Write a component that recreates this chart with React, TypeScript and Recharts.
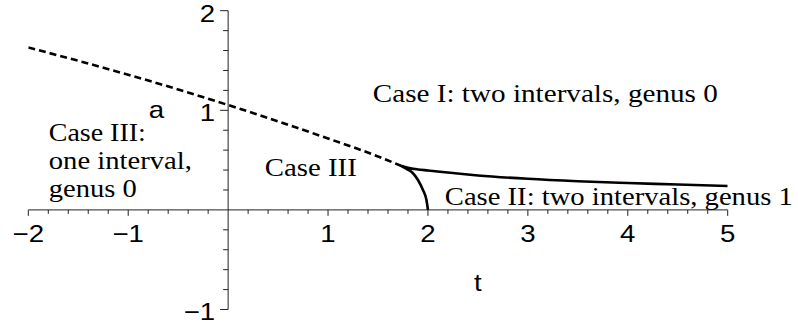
import { LineChart, Line, XAxis, YAxis, ReferenceLine, ReferenceDot } from 'recharts'

// phase boundaries in the (t, a) plane
const caseIIIBoundary = [
  { x: -2, y: 1.63 },
  { x: -1.5, y: 1.497 },
  { x: -1, y: 1.357 },
  { x: -0.5, y: 1.209 },
  { x: 0, y: 1.053 },
  { x: 0.5, y: 0.889 },
  { x: 1, y: 0.717 },
  { x: 1.5, y: 0.537 },
  { x: 1.736, y: 0.44 },
]

const genusOneUpper = [
  { x: 1.736, y: 0.44 },
  { x: 1.8, y: 0.422 },
  { x: 1.9, y: 0.406 },
  { x: 2, y: 0.396 },
  { x: 2.25, y: 0.37 },
  { x: 2.5, y: 0.346 },
  { x: 3, y: 0.312 },
  { x: 3.5, y: 0.288 },
  { x: 4, y: 0.27 },
  { x: 4.5, y: 0.255 },
  { x: 5, y: 0.24 },
]

const genusOneLower = [
  { x: 1.736, y: 0.44 },
  { x: 1.79, y: 0.41 },
  { x: 1.85, y: 0.368 },
  { x: 1.9, y: 0.3 },
  { x: 1.95, y: 0.2 },
  { x: 1.985, y: 0.1 },
  { x: 2, y: 0 },
]

const xTickLabels = [-2, -1, 1, 2, 3, 4, 5]
const yTickLabels = [-1, 1, 2]
const xTitle = 't'
const yTitle = 'a'

const regionNames = [
  'Case I: two intervals, genus 0',
  'Case III:',
  'one interval,',
  'genus 0',
  'Case III',
  'Case II: two intervals, genus 1',
]

// where each region name sits (data coords of the baseline start) and how wide it runs
const regionLayout = [
  { x: 1.448, y: 1.083, w: 345 },
  { x: -1.795, y: 0.695, w: 97 },
  { x: -1.795, y: 0.408, w: 143 },
  { x: -1.795, y: 0.127, w: 88 },
  { x: 0.367, y: 0.344, w: 92 },
  { x: 2.169, y: 0.05, w: 348 },
]

const minorX = Array.from({ length: 36 }, (_, i) => Math.round((-2 + i * 0.2) * 10) / 10).filter(v => v !== 0)
const minorY = Array.from({ length: 16 }, (_, i) => Math.round((-1 + i * 0.2) * 10) / 10).filter(v => v !== 0)

const AXIS = '#222'
const SANS = '"Liberation Sans", Arial, Helvetica, sans-serif'
const SERIF = '"Liberation Serif", "Times New Roman", serif'

const sansText = (value: string, anchor: 'start' | 'middle' | 'end') => (p: any) => {
  const vb = p.viewBox ?? {}
  const x = (vb.x ?? 0) + (vb.width ?? 0) / 2
  const y = (vb.y ?? 0) + (vb.height ?? 0) / 2
  return (
    <text
      transform={`translate(${x},${y}) scale(1.15,1)`}
      textAnchor={anchor}
      fontFamily={SANS}
      fontSize={24}
      fill="#000"
    >
      {value}
    </text>
  )
}

const serifText = (value: string, width: number) => (p: any) => {
  const vb = p.viewBox ?? {}
  const x = (vb.x ?? 0) + (vb.width ?? 0) / 2
  const y = (vb.y ?? 0) + (vb.height ?? 0) / 2
  return (
    <text
      x={x}
      y={y}
      textLength={width}
      lengthAdjust="spacingAndGlyphs"
      fontFamily={SERIF}
      fontSize={25}
      fill="#000"
    >
      {value}
    </text>
  )
}

const fmt = (v: number) => (v < 0 ? `\u2212${-v}` : `${v}`)

export default function App() {
  return (
    <div style={{ position: 'absolute', left: 0, top: 0, background: '#fff' }}>
      <LineChart
        width={798}
        height={329}
        margin={{ top: 10.7, right: 70.3, bottom: 19.5, left: 28.3 }}
      >
        <XAxis type="number" dataKey="x" domain={[-2, 5]} hide allowDataOverflow />
        <YAxis type="number" dataKey="y" domain={[-1, 2]} hide allowDataOverflow />

        {/* axes through the origin */}
        <ReferenceLine segment={[{ x: -2, y: 0 }, { x: 5, y: 0 }]} stroke={AXIS} strokeWidth={1} ifOverflow="visible" />
        <ReferenceLine segment={[{ x: 0, y: -1 }, { x: 0, y: 2 }]} stroke={AXIS} strokeWidth={1} ifOverflow="visible" />

        {minorX.map(v => (
          <ReferenceLine
            key={`xt${v}`}
            segment={[{ x: v, y: 0 }, { x: v, y: Number.isInteger(v) ? -0.06 : -0.04 }]}
            stroke={AXIS}
            strokeWidth={1}
            ifOverflow="visible"
          />
        ))}
        {minorY.map(v => (
          <ReferenceLine
            key={`yt${v}`}
            segment={[{ x: 0, y: v }, { x: Number.isInteger(v) ? -0.08 : -0.05, y: v }]}
            stroke={AXIS}
            strokeWidth={1}
            ifOverflow="visible"
          />
        ))}

        {xTickLabels.map(v => (
          <ReferenceDot key={`xl${v}`} x={v} y={-0.321} r={0} stroke="none" ifOverflow="visible" label={sansText(fmt(v), 'middle')} />
        ))}
        {yTickLabels.map(v => (
          <ReferenceDot key={`yl${v}`} x={-0.13} y={v - 0.11} r={0} stroke="none" ifOverflow="visible" label={sansText(fmt(v), 'end')} />
        ))}
        <ReferenceDot x={2.5} y={-0.812} r={0} stroke="none" ifOverflow="visible" label={sansText(xTitle, 'middle')} />
        <ReferenceDot x={-0.717} y={0.92} r={0} stroke="none" ifOverflow="visible" label={sansText(yTitle, 'middle')} />

        {regionNames.map((name, i) => (
          <ReferenceDot
            key={name + i}
            x={regionLayout[i].x}
            y={regionLayout[i].y}
            r={0}
            stroke="none"
            ifOverflow="visible"
            label={serifText(name, regionLayout[i].w)}
          />
        ))}

        <Line
          data={caseIIIBoundary}
          dataKey="y"
          type="monotone"
          stroke="#000"
          strokeWidth={2.6}
          strokeDasharray="7 4"
          dot={false}
          activeDot={false}
          isAnimationActive={false}
        />
        <Line
          data={genusOneUpper}
          dataKey="y"
          type="monotone"
          stroke="#000"
          strokeWidth={2.6}
          dot={false}
          activeDot={false}
          isAnimationActive={false}
        />
        <Line
          data={genusOneLower}
          dataKey="y"
          type="monotone"
          stroke="#000"
          strokeWidth={2.6}
          dot={false}
          activeDot={false}
          isAnimationActive={false}
        />
      </LineChart>
    </div>
  )
}
